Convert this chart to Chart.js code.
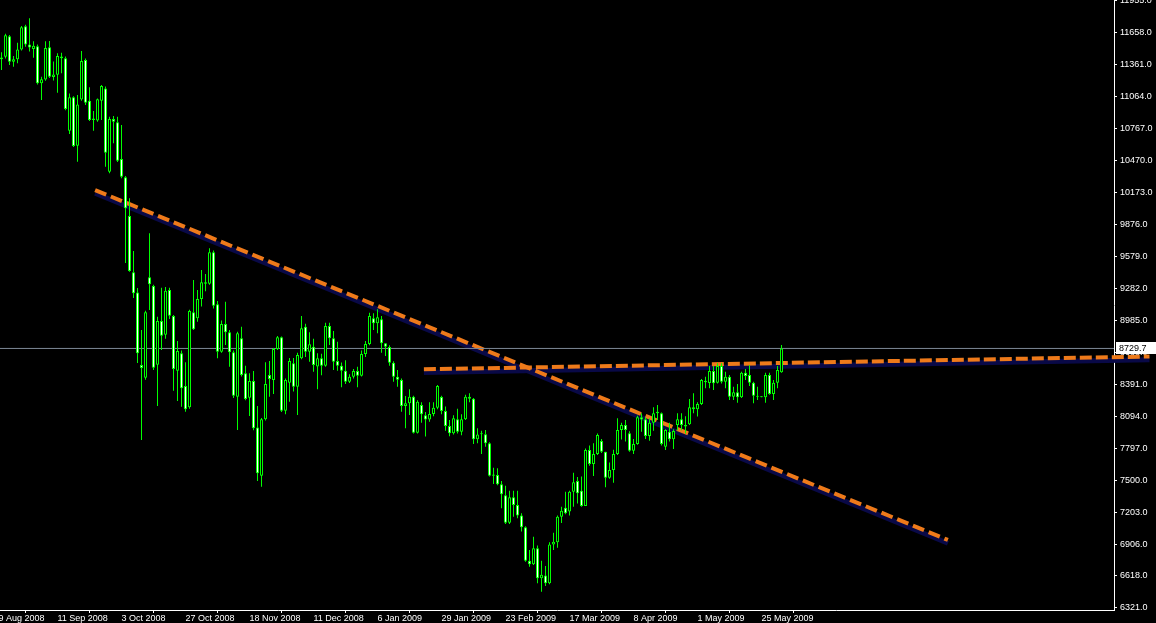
<!DOCTYPE html>
<html>
<head>
<meta charset="utf-8">
<script src="https://cdn.jsdelivr.net/npm/chart.js@4.4.0/dist/chart.umd.min.js"></script>
<style>
html, body { margin: 0; padding: 0; background: #000; }
canvas { display: block; }
</style>
</head>
<body>
<canvas id="mycanvas" width="1156" height="623"></canvas>
<script>
// daily bars, 21 Aug 2008 .. 1 Jun 2009
var opens = [
	11415,11438,11627,11391,11413,11505,11720,11551,11510,11535,
	11192,11227,11525,11250,11270,11440,11424,10751,11061,10611,
	11040,11407,11030,10850,10845,11030,11143,10370,10859,10829,
	10488,10318,9959,9437,9250,8576,8458,9390,9309,8579,
	8984,8857,9272,9031,8523,8685,8381,8184,9065,9009,
	9189,9344,9330,9622,9139,8700,8957,8880,8694,8282,
	8824,8499,8273,8428,7997,7549,8072,8483,8437,8725,
	8833,8152,8412,8592,8375,8638,8932,8700,8746,8561,
	8638,8570,8938,8824,8613,8570,8523,8421,8468,8520,
	8477,8678,8771,9010,8963,9000,8777,8742,8597,8468,
	8437,8196,8221,8282,7948,8205,8110,8070,8121,8180,
	8280,8150,8010,7942,8072,7957,8072,8282,8262,7887,
	7933,7933,7849,7549,7556,7469,7366,7113,7348,7277,
	7178,7070,6760,6727,6875,6597,6622,6550,6910,6930,
	7168,7252,7216,7400,7500,7408,7268,7787,7657,7750,
	7871,7770,7530,7602,7750,7973,8019,7942,7781,7843,
	8091,8072,7917,8041,8128,8128,7818,7957,7887,8019,
	8072,8019,8026,8184,8165,8214,8430,8410,8520,8412,
	8567,8421,8468,8282,8323,8277,8505,8483,8412,8291,
	8277,8277,8483,8307,8412,8508
];
var highs = [
	11478,11650,11640,11444,11567,11722,11734,11794,11582,11550,
	11252,11580,11583,11393,11469,11475,11440,11097,11070,11082,
	11490,11420,11155,10933,11050,11175,11160,10880,10887,10880,
	10803,10330,10123,9634,9290,8901,9080,9798,9320,9024,
	9294,9300,9294,9040,8799,8710,8601,9090,9365,9272,
	9458,9420,9659,9640,9170,8990,9164,8900,8710,8885,
	8931,8570,8500,8520,8196,8083,8601,8613,8735,8845,
	8840,8450,8640,8640,8690,9031,8960,8880,8820,8685,
	8680,8969,8969,8891,8792,8600,8620,8490,8540,8560,
	8710,8800,9062,9056,9093,9030,8777,8760,8610,8530,
	8450,8289,8350,8290,8250,8230,8140,8230,8230,8390,
	8290,8190,8065,8110,8170,8120,8300,8313,8270,7990,
	7965,7973,7860,7623,7617,7500,7455,7410,7410,7410,
	7200,7080,6859,6983,6900,6760,6711,6930,7020,7180,
	7260,7400,7410,7577,7536,7540,7800,7830,7850,7940,
	7890,7770,7670,7790,8081,8040,8065,7960,7889,8105,
	8128,8090,8080,8184,8205,8135,7980,8041,7980,8128,
	8128,8100,8261,8313,8230,8445,8468,8567,8567,8592,
	8592,8514,8483,8375,8400,8514,8539,8576,8420,8375,
	8277,8505,8505,8437,8567,8762
];
var lows = [
	11314,11420,11360,11345,11376,11495,11530,11486,11427,11180,
	11035,11215,11240,11216,11104,11283,10940,10720,10600,10463,
	11030,10990,10840,10751,10835,10850,10417,10355,10634,10460,
	10309,9523,9442,9198,8595,7880,8440,9086,8530,8196,
	8715,8820,9003,8338,8242,8189,8143,8170,8901,8978,
	9120,9260,9320,9100,8638,8690,8762,8560,8270,7973,
	8470,8250,8103,7970,7499,7447,8060,8282,8307,8715,
	8140,8120,8236,8330,8112,8630,8650,8607,8514,8351,
	8480,8560,8762,8530,8523,8369,8400,8410,8450,8369,
	8470,8650,8760,8901,8870,8690,8660,8570,8421,8375,
	8143,7989,8112,7940,7940,8041,7912,8050,8100,8165,
	8120,7966,7915,7930,7940,7925,8065,8230,7843,7850,
	7750,7818,7540,7472,7460,7246,7100,7100,7168,7153,
	7030,6750,6704,6720,6550,6472,6525,6540,6860,6880,
	7110,7190,7178,7261,7290,7260,7268,7640,7546,7740,
	7760,7441,7520,7484,7740,7885,7865,7770,7750,7835,
	7957,7890,7874,7966,8066,7830,7787,7866,7797,7970,
	7970,7940,8020,8128,8097,8205,8360,8360,8344,8405,
	8405,8360,8251,8251,8226,8270,8437,8381,8221,8251,
	8277,8226,8300,8251,8360,8505
];
var closes = [
	11430,11636,11391,11413,11505,11710,11551,11523,11540,11192,
	11228,11518,11252,11272,11444,11424,10952,11061,10609,10995,
	11398,11011,10850,10865,11043,11165,10546,10859,10835,10472,
	10324,10030,9449,9242,8685,8548,9065,9325,8551,8984,
	8848,9266,9034,8539,8706,8360,8165,9077,8907,9189,
	9344,9330,9622,9126,8700,8957,8880,8694,8291,8870,
	8483,8261,8428,7989,7571,8072,8400,8446,8725,8833,
	8152,8437,8613,8375,8669,8917,8700,8768,8576,8638,
	8570,8938,8824,8607,8570,8523,8421,8468,8520,8477,
	8678,8771,9031,8963,9019,8777,8746,8597,8468,8440,
	8196,8221,8282,7948,8236,8119,8070,8121,8180,8381,
	8150,8010,7942,8081,7957,8072,8282,8262,7887,7930,
	7935,7849,7549,7560,7469,7376,7113,7348,7277,7178,
	7070,6760,6727,6875,6597,6630,6550,6910,6935,7168,
	7224,7200,7400,7488,7386,7268,7787,7657,7750,7927,
	7770,7530,7602,7750,7973,8019,7973,7781,7843,8091,
	8070,7917,8041,8128,8143,7843,7973,7887,7964,8072,
	8019,8005,8184,8165,8214,8437,8415,8520,8406,8567,
	8421,8468,8282,8323,8277,8505,8474,8412,8291,8282,
	8277,8483,8307,8412,8530,8729.7
];

// date labels and the bar they sit on
var tickBars = [-2, 14, 30, 46, 62, 78, 94, 110, 126, 142, 158, 174, 190];
var tickLabels = ["19 Aug 2008", "11 Sep 2008", "3 Oct 2008", "27 Oct 2008", "18 Nov 2008", "11 Dec 2008",
	"6 Jan 2009", "29 Jan 2009", "23 Feb 2009", "17 Mar 2009", "8 Apr 2009", "1 May 2009", "25 May 2009"];
var priceTicks = [6321, 6618, 6906, 7203, 7500, 7797, 8094, 8391, 8688, 8985, 9282, 9579, 9876,
	10173, 10470, 10767, 11064, 11361, 11658, 11955];

// trend lines: [bar, price]
var trendDown = [[23.4, 10200], [236.6, 6952]];
var trendFlat = [[105.6, 8536], [287, 8655]];

var lastClose = closes[closes.length - 1];

var bodies = [], wicks = [], fills = [];
for (var i = 0; i < closes.length; i++) {
	bodies.push({x: i, y: [opens[i], closes[i]]});
	wicks.push({x: i, y: [lows[i], highs[i]]});
	fills.push(closes[i] >= opens[i] ? "#000000" : "#ffffff");
}

function pts(line, shift) {
	return line.map(function(p){ return {x: p[0], y: p[1] + shift}; });
}

var font = {family: "'Liberation Sans', Arial, sans-serif", size: 9};

var lastPrice = {
	id: "lastPrice",
	afterDraw: function(chart) {
		var c = chart.ctx;
		var y = chart.scales.y.getPixelForValue(lastClose);
		var x = chart.chartArea.right;
		c.save();
		c.fillStyle = "#ffffff";
		c.fillRect(x + 2, Math.round(y) - 6, 40, 12);
		c.fillStyle = "#000000";
		c.font = "9px 'Liberation Sans', Arial, sans-serif";
		c.textBaseline = "middle";
		c.fillText(lastClose.toFixed(1), x + 5, Math.round(y) + 0.5);
		c.restore();
	}
};

var ctx = document.getElementById("mycanvas");

var candleChart = new Chart(ctx, {
	type: "bar",
	data: {
		datasets: [
			{
				label: "body",
				data: bodies,
				backgroundColor: fills,
				borderColor: "#00ff00",
				borderWidth: 1,
				borderSkipped: false,
				inflateAmount: 0,
				grouped: false,
				barPercentage: 1,
				categoryPercentage: 1,
				maxBarThickness: 3,
				minBarLength: 1,
				order: 1
			},
			{
				label: "wick",
				data: wicks,
				backgroundColor: "#00ff00",
				borderWidth: 0,
				inflateAmount: 0,
				grouped: false,
				barPercentage: 1,
				categoryPercentage: 1,
				maxBarThickness: 1,
				minBarLength: 1,
				order: 2
			},
			{
				type: "line",
				label: "price",
				data: [{x: -1, y: lastClose}, {x: 280, y: lastClose}],
				borderColor: "#7d8896",
				borderWidth: 1,
				pointRadius: 0,
				order: 3
			},
			{
				type: "line",
				label: "down",
				data: pts(trendDown, 0),
				borderColor: "#ee7a1a",
				borderWidth: 4,
				borderDash: [12, 5],
				borderCapStyle: "butt",
				pointRadius: 0,
				order: 4
			},
			{
				type: "line",
				label: "flat",
				data: pts(trendFlat, 0),
				borderColor: "#ee7a1a",
				borderWidth: 4,
				borderDash: [12, 4],
				borderCapStyle: "butt",
				pointRadius: 0,
				clip: false,
				order: 4
			},
			{
				type: "line",
				label: "down shadow",
				data: pts(trendDown, -30),
				borderColor: "#090947",
				borderWidth: 5,
				pointRadius: 0,
				order: 5
			},
			{
				type: "line",
				label: "flat shadow",
				data: pts(trendFlat, -30),
				borderColor: "#090947",
				borderWidth: 5,
				pointRadius: 0,
				clip: false,
				order: 5
			}
		]
	},
	options: {
		responsive: false,
		animation: false,
		events: [],
		layout: {padding: 0, autoPadding: false},
		plugins: {
			legend: {display: false},
			tooltip: {enabled: false}
		},
		scales: {
			x: {
				type: "linear",
				min: -0.375,
				max: 278.125,
				offset: false,
				grid: {display: true, drawOnChartArea: false, drawTicks: true, tickLength: 3, color: "#ffffff"},
				border: {display: true, color: "#ffffff", width: 1},
				afterBuildTicks: function(s) {
					s.ticks = tickBars.map(function(v){ return {value: v}; });
				},
				afterFit: function(s) {
					s.height = 13;
					s.paddingLeft = 0;
					s.paddingRight = 0;
				},
				ticks: {
					color: "#ffffff",
					font: font,
					autoSkip: false,
					maxRotation: 0,
					align: "start",
					padding: 0,
					callback: function(value, index) { return tickLabels[index]; }
				}
			},
			y: {
				type: "linear",
				position: "right",
				min: 6302,
				max: 11964,
				beginAtZero: false,
				grid: {display: true, drawOnChartArea: false, drawTicks: true, tickLength: 3, color: "#ffffff"},
				border: {display: true, color: "#ffffff", width: 1},
				afterBuildTicks: function(s) {
					s.ticks = priceTicks.map(function(v){ return {value: v}; });
				},
				afterFit: function(s) {
					s.width = 42;
					s.paddingTop = 0;
					s.paddingBottom = 0;
				},
				ticks: {
					color: "#ffffff",
					font: font,
					autoSkip: false,
					padding: 3,
					callback: function(value) { return value.toFixed(1); }
				}
			}
		}
	},
	plugins: [lastPrice]
});
</script>
</body>
</html>
